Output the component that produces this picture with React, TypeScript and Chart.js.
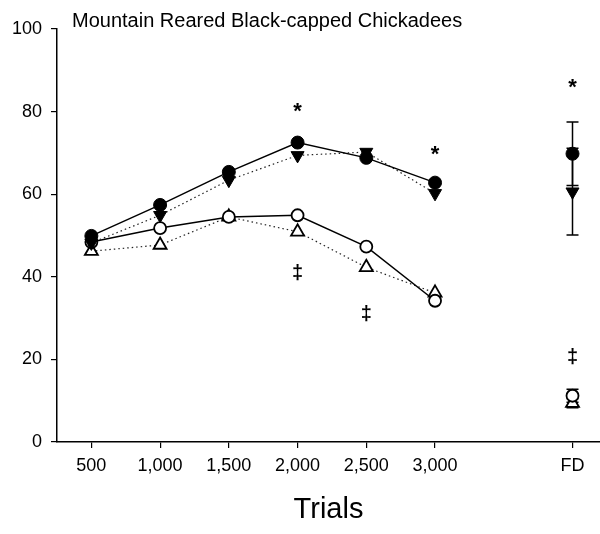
import React, { useEffect, useRef } from 'react';
import { Chart, registerables } from 'chart.js';

Chart.register(...registerables);

// ---- data ----
const xLabels = ['500', '1,000', '1,500', '2,000', '2,500', '3,000', '', 'FD'];
const titleText = 'Mountain Reared Black-capped Chickadees';
const xTitle = 'Trials';

// filled circle (solid line)
const filledCircle = [49.9, 57.4, 65.4, 72.5, 68.8, 62.8, null, 69.8];
const filledCircleErr = [null, null, null, null, null, null, null, 7.7];
// filled down-triangle (dotted line)
const downTriangle = [48.2, 54.9, 63.4, 69.4, 70.2, 60.2, null, 60.6];
const downTriangleErr = [null, null, null, null, null, null, null, 10.5];
// open circle (solid line)
const openCircle = [48.4, 51.8, 54.5, 54.9, 47.3, 34.2, null, 11.2];
const openCircleErr = [null, null, null, null, null, null, null, 1.6];
// open up-triangle (dotted line)
const upTriangle = [46.2, 47.7, 54.5, 50.9, 42.3, 36.1, null, 9.4];
const upTriangleErr = [null, null, null, null, null, null, null, 1.1];

// significance marks
const starMarks = [null, null, null, 81.3, null, 70.9, null, 87.2];
const daggerMarks = [null, null, null, 40.8, 31.1, null, null, 20.5];

const FONT = '"Liberation Sans", Arial, Helvetica, sans-serif';

const toPts = (arr: (number | null)[]) => arr.map((y, i) => ({ x: i, y }));

export default function App() {
  const ref = useRef<HTMLCanvasElement>(null);

  useEffect(() => {
    if (!ref.current) return;

    const errorSets = [
      { vals: filledCircle, errs: filledCircleErr },
      { vals: downTriangle, errs: downTriangleErr },
      { vals: openCircle, errs: openCircleErr },
      { vals: upTriangle, errs: upTriangleErr },
    ];

    const errorBars = {
      id: 'errorBars',
      beforeDatasetsDraw(chart: any) {
        const { ctx, scales } = chart;
        const xs = scales.x;
        const ys = scales.y;
        ctx.save();
        ctx.strokeStyle = '#000';
        ctx.lineWidth = 1.5;
        errorSets.forEach(({ vals, errs }) => {
          errs.forEach((e, i) => {
            const v = vals[i];
            if (e == null || v == null) return;
            const px = xs.getPixelForValue(i);
            const top = ys.getPixelForValue(v + e);
            const bot = ys.getPixelForValue(v - e);
            ctx.beginPath();
            ctx.moveTo(px, top);
            ctx.lineTo(px, bot);
            ctx.moveTo(px - 6, top);
            ctx.lineTo(px + 6, top);
            ctx.moveTo(px - 6, bot);
            ctx.lineTo(px + 6, bot);
            ctx.stroke();
          });
        });
        ctx.restore();
      },
    };

    const annotations = {
      id: 'annotations',
      afterDraw(chart: any) {
        const { ctx, scales } = chart;
        const xs = scales.x;
        const ys = scales.y;
        ctx.save();
        ctx.fillStyle = '#000';
        ctx.textAlign = 'center';
        ctx.textBaseline = 'alphabetic';
        ctx.font = `bold 22px ${FONT}`;
        starMarks.forEach((v, i) => {
          if (v == null) return;
          ctx.fillText('*', xs.getPixelForValue(i), ys.getPixelForValue(v) + 12);
        });
        ctx.font = `bold 20px ${FONT}`;
        daggerMarks.forEach((v, i) => {
          if (v == null) return;
          ctx.fillText('\u2021', xs.getPixelForValue(i), ys.getPixelForValue(v) + 6);
        });
        ctx.textAlign = 'left';
        ctx.font = `20px ${FONT}`;
        ctx.fillText(titleText, 72, 27);
        ctx.restore();
      },
    };

    const chart = new Chart(ref.current, {
      type: 'line',
      data: {
        datasets: [
          {
            label: 'filled circle',
            data: toPts(filledCircle),
            borderColor: '#000',
            borderWidth: 1.5,
            backgroundColor: '#000',
            pointStyle: 'circle',
            pointRadius: 6.5,
            pointBorderWidth: 1,
            pointBackgroundColor: '#000',
            pointBorderColor: '#000',
            spanGaps: false,
          },
          {
            label: 'down triangle',
            data: toPts(downTriangle),
            borderColor: '#222',
            borderWidth: 1.2,
            borderDash: [1.5, 3],
            pointStyle: 'triangle',
            pointRotation: 180,
            pointRadius: 7.5,
            pointBorderWidth: 1,
            pointBackgroundColor: '#000',
            pointBorderColor: '#000',
            spanGaps: false,
          },
          {
            label: 'open circle',
            data: toPts(openCircle),
            borderColor: '#000',
            borderWidth: 1.5,
            pointStyle: 'circle',
            pointRadius: 6,
            pointBorderWidth: 1.8,
            pointBackgroundColor: '#fff',
            pointBorderColor: '#000',
            spanGaps: false,
          },
          {
            label: 'up triangle',
            data: toPts(upTriangle),
            borderColor: '#222',
            borderWidth: 1.2,
            borderDash: [1.5, 3],
            pointStyle: 'triangle',
            pointRadius: 7.5,
            pointBorderWidth: 1.8,
            pointBackgroundColor: '#fff',
            pointBorderColor: '#000',
            spanGaps: false,
          },
        ],
      },
      options: {
        responsive: false,
        animation: false,
        events: [],
        layout: { autoPadding: false, padding: { top: 29, right: 0, left: 0, bottom: 0 } },
        plugins: {
          legend: { display: false },
          tooltip: { enabled: false },
          title: { display: false },
        },
        scales: {
          x: {
            type: 'linear',
            min: -0.5,
            max: 7.4,
            afterBuildTicks: (s: any) => {
              s.ticks = xLabels
                .map((l, i) => ({ value: i, label: l }))
                .filter((t) => t.label !== '')
                .map((t) => ({ value: t.value }));
            },
            afterFit: (s: any) => {
              s.height = 92;
              s.paddingLeft = 0;
              s.paddingRight = 0;
            },
            ticks: {
              callback: (v: any) => xLabels[v] ?? '',
              font: { family: FONT, size: 18 },
              color: '#000',
              padding: 7,
              autoSkip: false,
              maxRotation: 0,
            },
            grid: {
              display: true,
              drawOnChartArea: false,
              drawTicks: true,
              tickLength: 6,
              color: '#000',
              lineWidth: 1.2,
            },
            border: { display: true, color: '#000', width: 1.5 },
            title: {
              display: true,
              text: xTitle,
              color: '#000',
              font: { family: FONT, size: 29 },
              padding: { top: 0, bottom: 7 },
            },
          },
          y: {
            type: 'linear',
            min: 0,
            max: 100,
            afterFit: (s: any) => {
              s.width = 57;
              s.paddingTop = 0;
              s.paddingBottom = 0;
            },
            ticks: {
              stepSize: 20,
              font: { family: FONT, size: 18 },
              color: '#000',
              padding: 9,
            },
            grid: {
              display: true,
              drawOnChartArea: false,
              drawTicks: true,
              tickLength: 6,
              color: '#000',
              lineWidth: 1.2,
            },
            border: { display: true, color: '#000', width: 1.5 },
          },
        },
      },
      plugins: [errorBars, annotations],
    } as any);

    return () => chart.destroy();
  }, []);

  return (
    <div style={{ position: 'fixed', left: 0, top: 0, width: 600, height: 534, background: '#fff' }}>
      <canvas ref={ref} width={600} height={534} style={{ width: 600, height: 534, display: 'block' }} />
    </div>
  );
}
